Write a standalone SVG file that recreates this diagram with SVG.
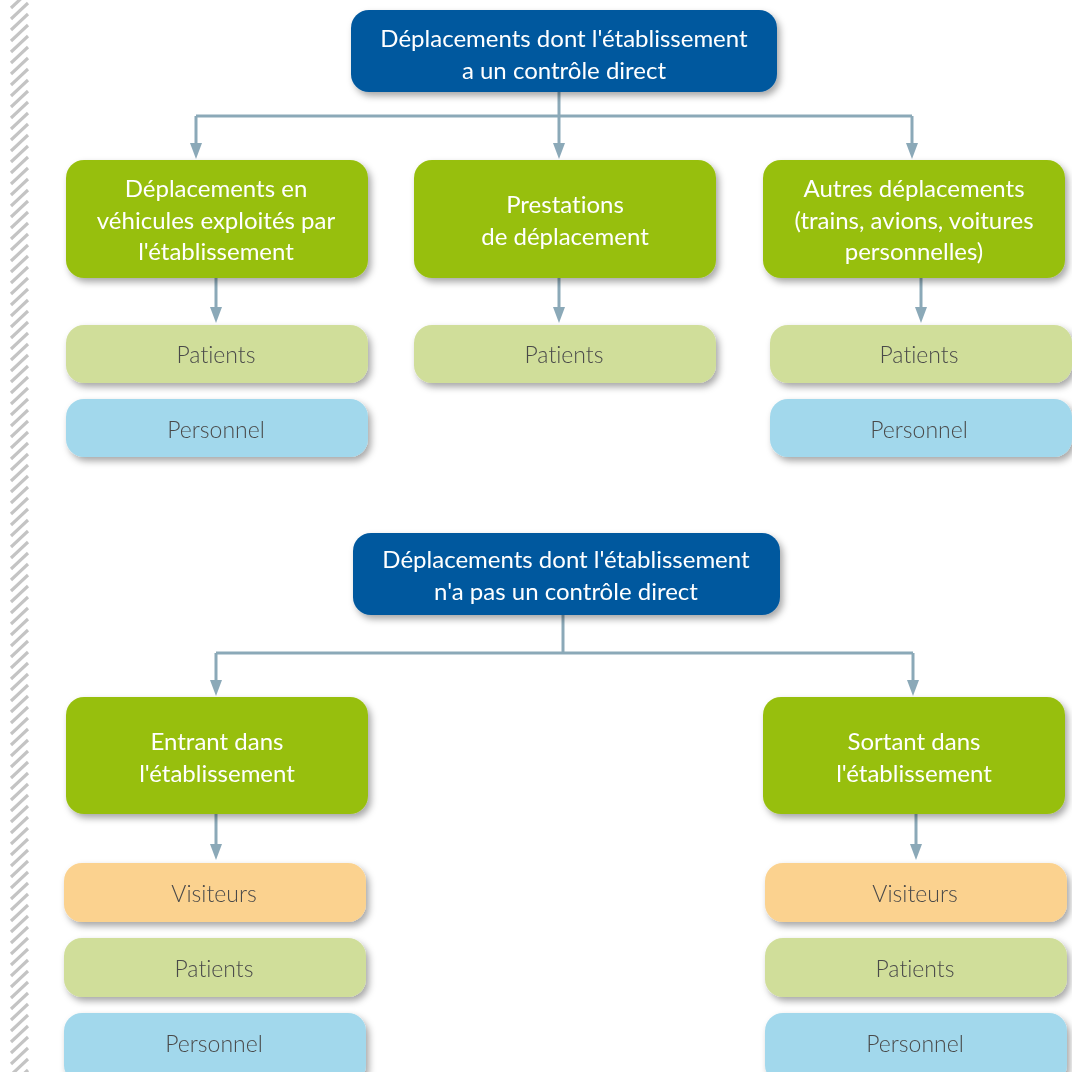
<svg xmlns="http://www.w3.org/2000/svg" width="1072" height="1072" viewBox="0 0 1072 1072">
<style>
text{font-family:Lato,"Open Sans","Liberation Sans",sans-serif;text-anchor:middle;font-variant-ligatures:none;}
.dk{fill:#00589e;}
.gr{fill:#97bf0d;}
.lg{fill:#d0de9a;}
.lb{fill:#a2d8ec;}
.or{fill:#fbd28f;}
.wt{fill:#ffffff;font-size:24px;}
.lt{fill:#4a4a4a;font-size:23px;font-weight:300;}
.cn{fill:none;stroke:#8ba9b8;stroke-width:3;}
.ah{fill:#8ba9b8;}
</style>
<defs>
<filter id="sh" x="-10%" y="-20%" width="125%" height="150%">
<feDropShadow dx="3" dy="4" stdDeviation="3.5" flood-color="#000" flood-opacity="0.35"/>
</filter>
<pattern id="hatch" patternUnits="userSpaceOnUse" x="0" y="0" width="40" height="11">
<path d="M11,19 L28,3 M11,8 L28,-8 M11,30 L28,14" stroke="#c4c4c4" stroke-width="3.2"/>
</pattern>
</defs>
<rect x="9" y="0" width="21" height="1072" fill="url(#hatch)"/>

<g id="connectors">
<path class="cn" d="M559,92 V116"/>
<path class="cn" d="M196,116 H912"/>
<path class="cn" d="M196,116 V144"/>
<path class="cn" d="M559,116 V144"/>
<path class="cn" d="M912,116 V144"/>
<path class="ah" d="M190,143 L202,143 L196,159 Z M553,143 L565,143 L559,159 Z M906,143 L918,143 L912,159 Z"/>
<path class="cn" d="M216,278 V308 M559,278 V308 M921,278 V308"/>
<path class="ah" d="M210,307 L222,307 L216,323 Z M553,307 L565,307 L559,323 Z M915,307 L927,307 L921,323 Z"/>
<path class="cn" d="M563,615 V653"/>
<path class="cn" d="M216,653 H913"/>
<path class="cn" d="M216,653 V681 M913,653 V681"/>
<path class="ah" d="M210,680 L222,680 L216,696 Z M907,680 L919,680 L913,696 Z"/>
<path class="cn" d="M216,814 V845 M916,814 V845"/>
<path class="ah" d="M210,844 L222,844 L216,860 Z M910,844 L922,844 L916,860 Z"/>
</g>

<g id="n-top" filter="url(#sh)"><rect class="dk" x="351" y="10" width="426" height="82" rx="18"/>
<text class="wt" x="564" y="47">Déplacements dont l'établissement</text>
<text class="wt" x="564" y="79">a un contrôle direct</text></g>

<g id="n-vehicules" filter="url(#sh)"><rect class="gr" x="66" y="160" width="302" height="118" rx="18"/>
<text class="wt" x="216" y="197">Déplacements en</text>
<text class="wt" x="216" y="229">véhicules exploités par</text>
<text class="wt" x="216" y="260">l'établissement</text></g>

<g id="n-prestations" filter="url(#sh)"><rect class="gr" x="414" y="160" width="302" height="118" rx="18"/>
<text class="wt" x="565" y="213">Prestations</text>
<text class="wt" x="565" y="245">de déplacement</text></g>

<g id="n-autres" filter="url(#sh)"><rect class="gr" x="763" y="160" width="302" height="118" rx="18"/>
<text class="wt" x="914" y="197">Autres déplacements</text>
<text class="wt" x="914" y="229">(trains, avions, voitures</text>
<text class="wt" x="914" y="260">personnelles)</text></g>

<g id="n-pat1" filter="url(#sh)"><rect class="lg" x="66" y="325" width="302" height="58" rx="18"/>
<text class="lt" x="216" y="363">Patients</text></g>
<g id="n-pers1" filter="url(#sh)"><rect class="lb" x="66" y="399" width="302" height="58" rx="18"/>
<text class="lt" x="216" y="438">Personnel</text></g>

<g id="n-pat2" filter="url(#sh)"><rect class="lg" x="414" y="325" width="302" height="58" rx="18"/>
<text class="lt" x="564" y="363">Patients</text></g>

<g id="n-pat3" filter="url(#sh)"><rect class="lg" x="770" y="325" width="302" height="58" rx="18"/>
<text class="lt" x="919" y="363">Patients</text></g>
<g id="n-pers3" filter="url(#sh)"><rect class="lb" x="770" y="399" width="302" height="58" rx="18"/>
<text class="lt" x="919" y="438">Personnel</text></g>

<g id="n-bottom" filter="url(#sh)"><rect class="dk" x="353" y="533" width="427" height="82" rx="18"/>
<text class="wt" x="566" y="568">Déplacements dont l'établissement</text>
<text class="wt" x="566" y="600">n'a pas un contrôle direct</text></g>

<g id="n-entrant" filter="url(#sh)"><rect class="gr" x="66" y="697" width="302" height="117" rx="18"/>
<text class="wt" x="217" y="750">Entrant dans</text>
<text class="wt" x="217" y="782">l'établissement</text></g>

<g id="n-sortant" filter="url(#sh)"><rect class="gr" x="763" y="697" width="302" height="117" rx="18"/>
<text class="wt" x="914" y="750">Sortant dans</text>
<text class="wt" x="914" y="782">l'établissement</text></g>

<g id="n-vis1" filter="url(#sh)"><rect class="or" x="64" y="863" width="302" height="59" rx="18"/>
<text class="lt" x="214" y="902">Visiteurs</text></g>
<g id="n-pat4" filter="url(#sh)"><rect class="lg" x="64" y="938" width="302" height="59" rx="18"/>
<text class="lt" x="214" y="977">Patients</text></g>
<g id="n-pers4" filter="url(#sh)"><rect class="lb" x="64" y="1013" width="302" height="70" rx="18"/>
<text class="lt" x="214" y="1052">Personnel</text></g>

<g id="n-vis2" filter="url(#sh)"><rect class="or" x="765" y="863" width="302" height="59" rx="18"/>
<text class="lt" x="915" y="902">Visiteurs</text></g>
<g id="n-pat5" filter="url(#sh)"><rect class="lg" x="765" y="938" width="302" height="59" rx="18"/>
<text class="lt" x="915" y="977">Patients</text></g>
<g id="n-pers5" filter="url(#sh)"><rect class="lb" x="765" y="1013" width="302" height="70" rx="18"/>
<text class="lt" x="915" y="1052">Personnel</text></g>
</svg>
